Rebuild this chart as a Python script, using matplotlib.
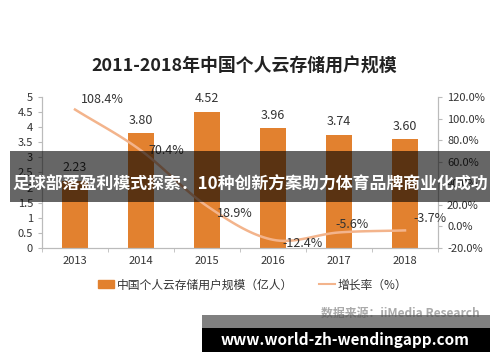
import numpy as np
import matplotlib.pyplot as plt
from matplotlib.patches import Rectangle

plt.rcParams['font.family'] = ['Noto Sans CJK SC', 'DejaVu Sans']

years = ['2013', '2014', '2015', '2016', '2017', '2018']
users = [2.23, 3.80, 4.52, 3.96, 3.74, 3.60]
growth = [108.4, 70.4, 18.9, -12.4, -5.6, -3.7]

bar_color = '#e2812f'
line_color = '#f3b48c'

fig = plt.figure(figsize=(5, 3.62), dpi=100)
ax = fig.add_axes([0.084, 0.315, 0.792, 0.417])
ax2 = ax.twinx()

x = np.arange(len(years))
ax.bar(x, users, width=0.4, color=bar_color, zorder=2)
for xi, v in zip(x, users):
    ax.text(xi, v + 0.22, f'{v:.2f}', ha='center', va='bottom', fontsize=9, color='#333333')

# smoothed growth line (Catmull-Rom through the data points)
def smooth(xs, ys, n=20):
    xs = np.asarray(xs, float)
    ys = np.asarray(ys, float)
    px = np.concatenate([[2 * xs[0] - xs[1]], xs, [2 * xs[-1] - xs[-2]]])
    py = np.concatenate([[2 * ys[0] - ys[1]], ys, [2 * ys[-1] - ys[-2]]])
    ox, oy = [], []
    t = np.linspace(0, 1, n, endpoint=False)
    for i in range(1, len(px) - 2):
        for arr, out in ((px, ox), (py, oy)):
            p0, p1, p2, p3 = arr[i - 1], arr[i], arr[i + 1], arr[i + 2]
            out.extend(0.5 * (2 * p1 + (-p0 + p2) * t + (2 * p0 - 5 * p1 + 4 * p2 - p3) * t ** 2
                              + (-p0 + 3 * p1 - 3 * p2 + p3) * t ** 3))
    ox.append(xs[-1])
    oy.append(ys[-1])
    return ox, oy

sx, sy = smooth(x, growth)
ax2.plot(sx, sy, color=line_color, lw=1.8, zorder=3)

g_offsets = [(0.42, 9), (0.38, 0), (0.42, -7), (0.45, -3), (0.2, 7), (0.38, 11)]
for xi, v, (dx, dy) in zip(x, growth, g_offsets):
    ax2.text(xi + dx, v + dy, f'{v:.1f}%', ha='center', va='center', fontsize=9, color='#333333')

ax.set_xlim(-0.5, 5.5)
ax.set_ylim(0, 5)
ax.set_yticks(np.arange(0, 5.01, 0.5))
ax.set_yticklabels(['0', '0.5', '1', '1.5', '2', '2.5', '3', '3.5', '4', '4.5', '5'])
ax2.set_ylim(-20, 120)
ax2.set_yticks(np.arange(-20, 121, 20))
ax2.set_yticklabels([f'{v:.1f}%' for v in np.arange(-20, 121, 20)])

ax.set_xticks(x)
ax.set_xticklabels(years)
ax.set_xticks(np.arange(-0.5, 6, 1), minor=True)
ax.tick_params(axis='x', which='major', length=0, labelsize=8, colors='#333333', pad=6)
ax.tick_params(axis='x', which='minor', length=3, color='#bbbbbb')
ax.tick_params(axis='y', length=3, color='#bbbbbb', labelsize=8, labelcolor='#333333')
ax2.tick_params(axis='y', length=3, color='#bbbbbb', labelsize=8, labelcolor='#333333')

for a in (ax, ax2):
    a.spines['top'].set_visible(False)
    for s in ('left', 'right', 'bottom'):
        a.spines[s].set_color('#bbbbbb')
        a.spines[s].set_linewidth(0.8)

fig.text(0.488, 0.815, '2011-2018年中国个人云存储用户规模', ha='center', va='center',
         fontsize=12.9, fontweight='bold', color='#222222')

h1 = Rectangle((0, 0), 1, 1, color=bar_color)
h2, = ax.plot([], [], color=line_color, lw=1.5)
fig.legend([h1, h2], ['中国个人云存储用户规模（亿人）', '增长率（%）'], loc='center',
           bbox_to_anchor=(0.505, 0.213), ncol=2, frameon=False, fontsize=8.5,
           handlelength=1.4, handletextpad=0.2, columnspacing=2.2, labelcolor='#333333')

fig.text(0.96, 0.135, '数据来源：iiMedia Research', ha='right', va='center',
         fontsize=8.6, fontweight='bold', color='#aaaaaa')

# overlay banners
fig.patches.append(Rectangle((0.02, 1 - 202 / 362), 0.96, 51 / 362, transform=fig.transFigure,
                             facecolor='black', alpha=0.6, zorder=5))
fig.text(0.5, 1 - 185 / 362, '足球部落盈利模式探索：10种创新方案助力体育品牌商业化成功',
         ha='center', va='center', fontsize=12.2, fontweight='bold', color='white', zorder=6)
fig.patches.append(Rectangle((0.404, 1 - 328 / 362), 0.576, 13 / 362, transform=fig.transFigure,
                             facecolor='#555555', alpha=0.75, zorder=5))
fig.patches.append(Rectangle((0.404, 1 - 352 / 362), 0.576, 24 / 362, transform=fig.transFigure,
                             facecolor='black', zorder=5))
fig.text(0.69, 1 - 340 / 362, 'www.world-zh-wendingapp.com', ha='center', va='center',
         fontsize=11, fontweight='bold', color='white', zorder=6)

fig.savefig('out.png', dpi=100, facecolor='white')
